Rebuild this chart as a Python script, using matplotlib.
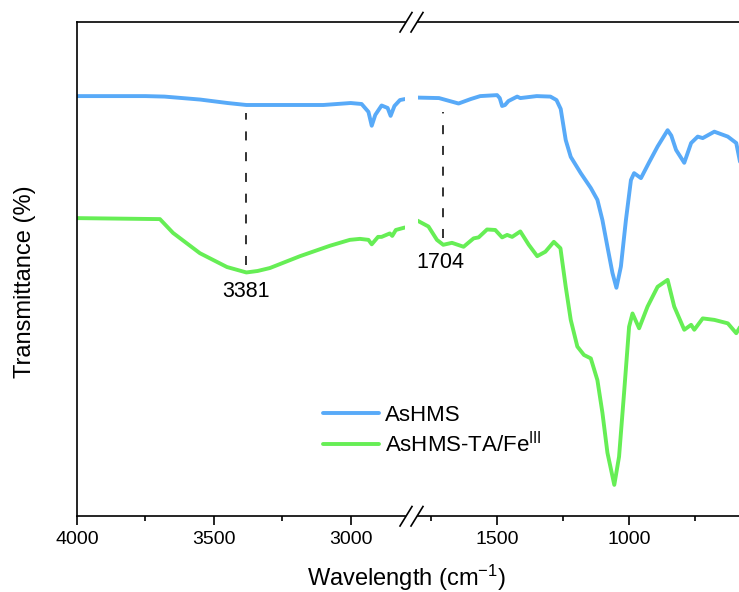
import matplotlib
matplotlib.use("Agg")
import matplotlib.pyplot as plt
from matplotlib.lines import Line2D

plt.rcParams['font.family'] = ['Liberation Sans', 'DejaVu Sans']
plt.rcParams['mathtext.fontset'] = 'custom'
plt.rcParams['mathtext.rm'] = 'Liberation Sans'
plt.rcParams['mathtext.it'] = 'Liberation Sans:italic'
plt.rcParams['mathtext.bf'] = 'Liberation Sans:bold'

# ---- spectra, high-wavenumber window (4000-2800 cm-1) ----
hi_wn = [4000, 3750, 3680, 3550, 3450, 3381, 3100, 3000, 2960, 2935, 2923,
         2910, 2887, 2865, 2854, 2840, 2820, 2802]
hi_ashms = [85.0, 85.0, 84.9, 84.3, 83.6, 83.2, 83.2, 83.6, 83.4, 81.8, 79.0,
            81.2, 83.1, 82.6, 81.0, 83.0, 84.2, 84.4]

hi_wn_fe = [4000, 3697, 3649, 3551, 3452, 3381, 3340, 3295, 3185, 3076, 3003,
            2966, 2935, 2923, 2900, 2887, 2857, 2848, 2835, 2802]
hi_fe = [60.3, 60.1, 57.3, 53.2, 50.4, 49.3, 49.6, 50.2, 52.6, 54.7, 55.9,
         56.1, 55.9, 55.0, 56.5, 56.5, 57.2, 56.7, 57.9, 58.4]

# ---- spectra, fingerprint window (1800-580 cm-1) ----
lo_wn = [1802, 1720, 1646, 1600, 1564, 1500, 1490, 1481, 1470, 1457, 1424,
         1412, 1350, 1298, 1275, 1259, 1240, 1221, 1183, 1145, 1120, 1101,
         1082, 1063, 1048, 1031, 1012, 993, 981, 955, 925, 892, 854, 840,
         822, 791, 765, 740, 721, 677, 626, 594, 579]
lo_ashms = [84.7, 84.6, 83.5, 84.4, 85.0, 85.2, 84.6, 83.0, 83.2, 84.0, 84.9,
            84.6, 85.0, 84.9, 84.2, 82.4, 76.1, 72.7, 69.4, 66.4, 64.0, 59.9,
            54.5, 49.2, 46.2, 50.5, 59.9, 68.0, 69.4, 68.4, 71.5, 74.8, 78.1,
            77.0, 74.1, 71.5, 75.5, 76.8, 76.5, 77.8, 76.8, 75.5, 71.5]

lo_wn_fe = [1802, 1760, 1728, 1704, 1671, 1627, 1589, 1570, 1538, 1507, 1481,
            1462, 1443, 1412, 1380, 1348, 1317, 1285, 1260, 1240, 1221, 1196,
            1171, 1145, 1120, 1101, 1082, 1056, 1038, 1019, 1000, 987, 962,
            930, 892, 854, 829, 791, 765, 753, 721, 677, 626, 594, 579]
lo_fe = [59.8, 58.6, 55.9, 54.9, 55.3, 54.5, 56.2, 56.4, 58.0, 57.9, 56.4,
         56.9, 56.5, 57.6, 54.9, 52.6, 53.5, 55.5, 54.2, 46.4, 39.7, 34.3,
         32.6, 31.9, 27.5, 20.9, 12.8, 6.3, 12.0, 24.9, 38.3, 41.0, 38.0,
         42.4, 46.4, 47.8, 42.4, 37.7, 38.7, 37.7, 40.0, 39.7, 39.0, 37.0, 38.3]

# marked bands: position, dashed-line span (bottom, top), label height
band_pos = [3381, 1704]
band_span = [(50.8, 81.6), (56.3, 81.8)]
band_label_y = [45.5, 51.4]

series_names = ['AsHMS', r'AsHMS-TA/Fe$^{\mathrm{III}}$']
c_blue = '#58AAF8'
c_green = '#66EE55'

W, H = 739, 592
fig = plt.figure(figsize=(W / 100, H / 100), dpi=100)

top_px, bot_px = 22, 516
left_px, brk_l, brk_r, right_px = 77, 405.4, 417.9, 739

def fy(py):
    return 1 - py / H

ax1 = fig.add_axes([left_px / W, fy(bot_px), (brk_l - left_px) / W,
                    (bot_px - top_px) / H])
ax2 = fig.add_axes([brk_r / W, fy(bot_px), (right_px - brk_r) / W + 0.002,
                    (bot_px - top_px) / H])

lw = 2.8
ax1.plot(hi_wn, hi_ashms, color=c_blue, lw=lw, solid_capstyle='round',
         solid_joinstyle='round')
ax1.plot(hi_wn_fe, hi_fe, color=c_green, lw=lw, solid_capstyle='round',
         solid_joinstyle='round')
ax2.plot(lo_wn, lo_ashms, color=c_blue, lw=lw, label=series_names[0],
         solid_capstyle='round', solid_joinstyle='round')
ax2.plot(lo_wn_fe, lo_fe, color=c_green, lw=lw, label=series_names[1],
         solid_capstyle='round', solid_joinstyle='round')

ax1.set_xlim(4000, 2800)
ax2.set_xlim(1800, 578)
for ax in (ax1, ax2):
    ax.set_ylim(0, 100)
    ax.set_yticks([])
    for s in ax.spines.values():
        s.set_linewidth(1.2)
    ax.tick_params(axis='x', which='major', direction='out', length=6.5,
                   width=1.2, labelsize=14, pad=4)
    ax.tick_params(axis='x', which='minor', direction='out', length=3.5,
                   width=1.2)

ax1.set_xticks([4000, 3500, 3000])
ax1.set_xticks([3750, 3250], minor=True)
ax2.set_xticks([1500, 1000])
ax2.set_xticks([1750, 1250, 750], minor=True)
ax1.spines['right'].set_visible(False)
ax2.spines['left'].set_visible(False)
ax2.spines['right'].set_visible(False)
ax2.tick_params(axis='y', left=False)

# dashed guide lines and band labels
axes_for_band = [ax1, ax2]
for ax, pos, (yb, yt), ly in zip(axes_for_band, band_pos, band_span,
                                 band_label_y):
    ax.plot([pos, pos], [yb, yt], color='#222222', lw=1.3,
            linestyle=(0, (5, 6.5)))
    ax.annotate(str(pos), xy=(pos, ly), xytext=(-2 if pos < 2000 else 0, 0),
                textcoords='offset points', ha='center', va='center',
                fontsize=15.5)

# axis break marks
for yc in (top_px, bot_px):
    for dx in (0, 11):
        x0, x1 = 400 + dx, 412 + dx
        fig.add_artist(Line2D([x0 / W, x1 / W], [fy(yc + 10), fy(yc - 9.5)],
                              transform=fig.transFigure, color='black',
                              lw=1.2, clip_on=False))

fig.text(406 / W, fy(578), r'Wavelength (cm$^{-1}$)', ha='center',
         va='center', fontsize=17)
fig.text(25 / W, fy(282), 'Transmittance (%)', ha='center', va='center',
         rotation=90, fontsize=17)

fig.legend(handles=ax2.get_lines()[:2], labels=series_names,
           loc='upper left', bbox_to_anchor=(323 / W, fy(405)),
           bbox_transform=fig.transFigure, frameon=False, fontsize=16,
           handlelength=2.5, handletextpad=0.3, labelspacing=0.2,
           borderpad=0, borderaxespad=0)

fig.savefig('out.png', dpi=100)
